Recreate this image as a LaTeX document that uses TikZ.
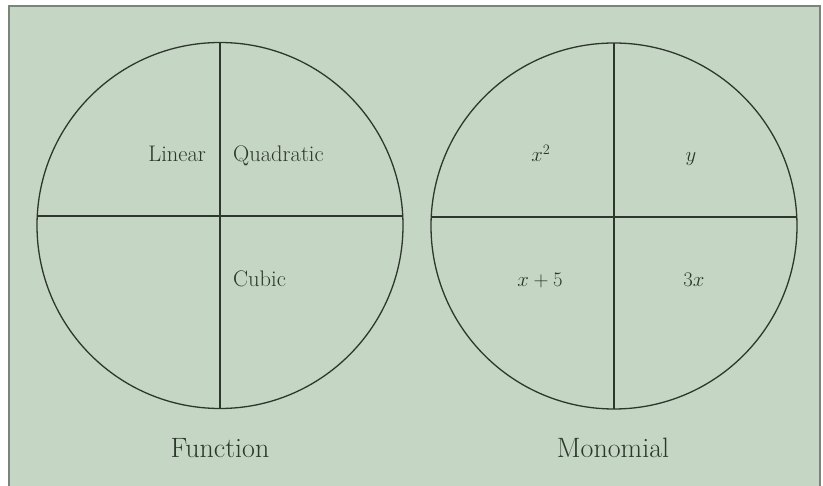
\documentclass[tikz,border=0pt]{standalone}
\usepackage{tikz}
\definecolor{sage}{RGB}{197,214,196}
\definecolor{framegray}{RGB}{122,132,122}
\definecolor{inkdark}{RGB}{45,55,45}

\begin{document}
\begin{tikzpicture}[
    x=1pt, y=-1pt,
    disc/.style={circle, draw=inkdark, line width=1.3pt, minimum size=366pt,
        inner sep=0pt, outer sep=0pt},
    split/.style={draw=inkdark, line width=1.3pt},
    tag/.style={font=\fontsize{22.5}{27}\selectfont, text=inkdark, inner sep=0pt},
    caption/.style={font=\fontsize{28}{33}\selectfont, text=inkdark, inner sep=0pt}
]
\useasboundingbox (0,0) rectangle (823,486);
\clip (0,0) rectangle (823,486);
\fill[white] (0,0) rectangle (823,486);
\draw[framegray, line width=2pt, fill=sage] (9,6) rectangle (820,530);

\node[disc] (fn) at (220,225.5) {};
\node[disc] (mono) at (614,226) {};
\draw[split] (fn.north) -- (fn.south);
\draw[split] ([yshift=9.5pt]fn.west) -- ([yshift=9.5pt]fn.east);
\draw[split] (mono.north) -- (mono.south);
\draw[split] ([yshift=9pt]mono.west) -- ([yshift=9pt]mono.east);

\node[tag, anchor=base east] (lin) at (206,162) {Linear};
\node[tag, anchor=base west] (quad) at (233,162) {Quadratic};
\node[tag, anchor=base west] (cub) at (233,287) {Cubic};

\node[tag, anchor=base] (sq) at (541,162) {$x^2$};
\node[tag, anchor=base] (yy) at (691,162) {$y$};
\node[tag, anchor=base] (xfive) at (540,287) {$x+5$};
\node[tag, anchor=base] (three) at (694,287) {$3x$};

\node[caption, anchor=base] (fnname) at (220,458) {Function};
\node[caption, anchor=base] (mononame) at (613,458) {Monomial};

\end{tikzpicture}
\end{document}
